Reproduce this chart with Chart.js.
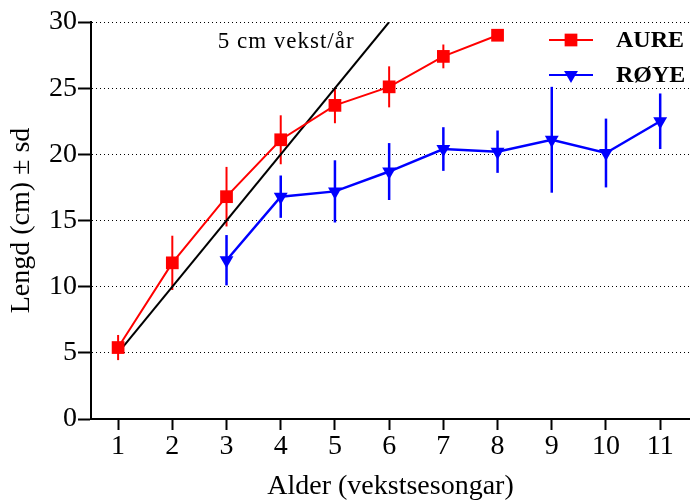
<!DOCTYPE html>
<html>
<head>
<meta charset="utf-8">
<script src="https://cdn.jsdelivr.net/npm/chart.js@4/dist/chart.umd.min.js"></script>
<style>
html,body{margin:0;padding:0;background:#fff;}
#wrap{width:690px;height:503px;}
</style>
</head>
<body>
<div id="wrap"><canvas id="c" width="690" height="503"></canvas></div>
<script>
// ---- Data ----
const ages = [1, 2, 3, 4, 5, 6, 7, 8, 9, 10, 11];
const aureMean = [5.4, 11.8, 16.8, 21.1, 23.7, 25.1, 27.4, 29.0, null, null, null];
const aureSd   = [0.95, 2.05, 2.25, 1.85, 1.35, 1.55, 0.9, 0, null, null, null];
const royeMean = [null, null, 12.0, 16.8, 17.2, 18.7, 20.4, 20.2, 21.1, 20.1, 22.5];
const royeSd   = [null, null, 1.9, 1.6, 2.35, 2.15, 1.65, 1.6, 4.0, 2.6, 2.1];
const refX = [1, 6];
const refY = [5, 30];
const xTicks = [1, 2, 3, 4, 5, 6, 7, 8, 9, 10, 11];
const yTicks = [0, 5, 10, 15, 20, 25, 30];
const seriesNames = ['AURE', 'RØYE'];
const refLabel = '5 cm vekst/år';
const xTitle = 'Alder (vekstsesongar)';
const yTitle = 'Lengd (cm) ± sd';

const SERIF = '"Liberation Serif", "Times New Roman", serif';
const RED = '#ff0000';
const BLUE = '#0000ff';

function pts(xs, ys) {
  const out = [];
  xs.forEach((x, i) => { if (ys[i] !== null && ys[i] !== undefined) out.push({x: x, y: ys[i]}); });
  return out;
}
function errs(xs, ys, sds) {
  const out = [];
  xs.forEach((x, i) => { if (ys[i] !== null && sds[i]) out.push({x: x, y: ys[i], sd: sds[i]}); });
  return out;
}

const errorBarPlugin = {
  id: 'errorBars',
  beforeDatasetsDraw(chart) {
    const {ctx, scales: {x, y}} = chart;
    chart.data.datasets.forEach(ds => {
      if (!ds.errors) return;
      ctx.save();
      ctx.strokeStyle = ds.borderColor;
      ctx.lineWidth = ds.errorWidth || 2;
      ds.errors.forEach(e => {
        const px = x.getPixelForValue(e.x);
        ctx.beginPath();
        ctx.moveTo(px, y.getPixelForValue(e.y + e.sd));
        ctx.lineTo(px, y.getPixelForValue(e.y - e.sd));
        ctx.stroke();
      });
      ctx.restore();
    });
  }
};

const extrasPlugin = {
  id: 'extras',
  afterDatasetsDraw(chart) {
    const {ctx, scales: {x, y}} = chart;
    ctx.save();
    // annotation text
    ctx.font = '23px ' + SERIF;
    ctx.fillStyle = '#000';
    ctx.textAlign = 'center';
    ctx.textBaseline = 'middle';
    if ('letterSpacing' in ctx) ctx.letterSpacing = '1px';
    ctx.fillText(refLabel, x.getPixelForValue(4.1), y.getPixelForValue(28.5));
    if ('letterSpacing' in ctx) ctx.letterSpacing = '0px';
    // legend
    const items = [
      {name: seriesNames[0], color: RED, ds: chart.data.datasets[0], cy: 40},
      {name: seriesNames[1], color: BLUE, ds: chart.data.datasets[1], cy: 75}
    ];
    const x0 = 549, x1 = 593, tx = 616;
    items.forEach(it => {
      ctx.strokeStyle = it.color;
      ctx.lineWidth = 2;
      ctx.beginPath();
      ctx.moveTo(x0, it.cy);
      ctx.lineTo(x1, it.cy);
      ctx.stroke();
      ctx.fillStyle = it.color;
      Chart.helpers.drawPoint(ctx, {
        pointStyle: it.ds.pointStyle,
        radius: it.ds.pointRadius,
        rotation: it.ds.pointRotation || 0,
        borderWidth: 0
      }, (x0 + x1) / 2, it.cy);
      ctx.fillStyle = '#000';
      ctx.font = 'bold 24px ' + SERIF;
      ctx.textAlign = 'left';
      ctx.textBaseline = 'middle';
      ctx.fillText(it.name, tx, it.cy + 1);
    });
    ctx.restore();
  }
};

new Chart(document.getElementById('c'), {
  type: 'line',
  data: {
    datasets: [
      {
        label: seriesNames[0],
        data: pts(ages, aureMean),
        errors: errs(ages, aureMean, aureSd),
        borderColor: RED, backgroundColor: RED,
        borderWidth: 2, errorWidth: 2,
        pointStyle: 'rect', pointRadius: 9, pointHoverRadius: 9, pointBorderWidth: 0,
        tension: 0, clip: false
      },
      {
        label: seriesNames[1],
        data: pts(ages, royeMean),
        errors: errs(ages, royeMean, royeSd),
        borderColor: BLUE, backgroundColor: BLUE,
        borderWidth: 2.5, errorWidth: 2.5,
        pointStyle: 'triangle', pointRotation: 180, pointRadius: 8, pointHoverRadius: 8, pointBorderWidth: 0,
        tension: 0, clip: false
      },
      {
        label: refLabel,
        data: pts(refX, refY),
        borderColor: '#000', backgroundColor: '#000',
        borderWidth: 2, pointRadius: 0, pointHoverRadius: 0,
        tension: 0
      }
    ]
  },
  options: {
    responsive: false,
    animation: false,
    devicePixelRatio: 1,
    layout: {autoPadding: false, padding: {top: 22, right: 0, left: 0, bottom: 0}},
    plugins: {legend: {display: false}, tooltip: {enabled: false}},
    scales: {
      x: {
        type: 'linear',
        min: 0.5, max: 11.55,
        afterBuildTicks: s => { s.ticks = xTicks.map(v => ({value: v})); },
        afterFit: s => { s.height = 84; s.paddingLeft = 0; s.paddingRight = 0; },
        ticks: {font: {family: SERIF, size: 28}, color: '#000', padding: 0, maxRotation: 0, autoSkip: false},
        grid: {drawOnChartArea: false, drawTicks: true, tickLength: 11, tickWidth: 2, tickColor: '#000', color: '#000'},
        border: {display: true, color: '#000', width: 2},
        title: {display: true, text: xTitle, font: {family: SERIF, size: 28}, color: '#000', padding: {top: 0, bottom: 0}}
      },
      y: {
        min: 0, max: 30,
        afterBuildTicks: s => { s.ticks = yTicks.map(v => ({value: v})); },
        afterFit: s => { s.width = 91; s.paddingTop = 0; s.paddingBottom = 0; },
        ticks: {font: {family: SERIF, size: 28}, color: '#000', padding: 1},
        grid: {drawOnChartArea: true, drawTicks: true, tickLength: 13, tickWidth: 2, tickColor: '#000', color: '#000', lineWidth: 1},
        border: {display: true, color: '#000', width: 2, dash: [1, 3]},
        title: {display: true, text: yTitle, font: {family: SERIF, size: 28}, color: '#000', padding: {top: 5, bottom: 0}}
      }
    }
  },
  plugins: [errorBarPlugin, extrasPlugin]
});
</script>
</body>
</html>
